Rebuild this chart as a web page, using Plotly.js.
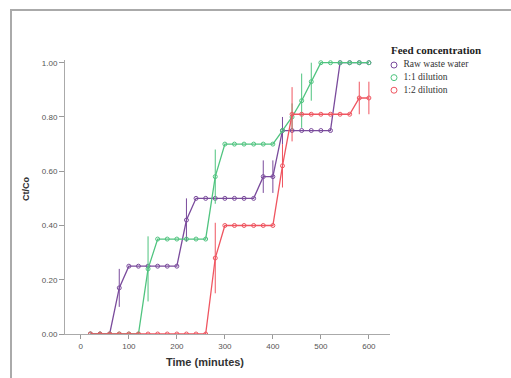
<!DOCTYPE html>
<html>
<head>
<meta charset="utf-8">
<script src="https://cdn.plot.ly/plotly-3.0.1.min.js"></script>
<style>
html,body{margin:0;padding:0;background:#fff;}
#chart{width:511px;height:378px;}
</style>
</head>
<body>
<div id="chart"></div>
<script>
// Time points (minutes)
const time = [20,40,60,80,100,120,140,160,180,200,220,240,260,280,300,320,340,360,380,400,420,440,460,480,500,520,540,560,580,600];

// Ct/Co values
const rawWater = [0,0,0,0.17,0.25,0.25,0.25,0.25,0.25,0.25,0.42,0.50,0.50,0.50,0.50,0.50,0.50,0.50,0.58,0.58,0.75,0.75,0.75,0.75,0.75,0.75,1.00,1.00,1.00,1.00];
const dil11    = [0,0,0,0,0,0,0.24,0.35,0.35,0.35,0.35,0.35,0.35,0.58,0.70,0.70,0.70,0.70,0.70,0.70,0.75,0.80,0.86,0.93,1.00,1.00,1.00,1.00,1.00,1.00];
const dil12    = [0,0,0,0,0,0,0,0,0,0,0,0,0,0.28,0.40,0.40,0.40,0.40,0.40,0.40,0.62,0.81,0.81,0.81,0.81,0.81,0.81,0.81,0.87,0.87];

// Error bar half-widths
const rawErr = [0,0,0,0.07,0,0,0,0,0,0,0.08,0,0,0,0,0,0,0,0.06,0.06,0.05,0,0,0,0,0,0,0,0,0];
const d11Err = [0,0,0,0,0,0,0.12,0,0,0,0,0,0,0.10,0,0,0,0,0,0,0,0.05,0.10,0.07,0,0,0,0,0,0];
const d12Err = [0,0,0,0,0,0,0,0,0,0,0,0,0,0.13,0,0,0,0,0,0,0.08,0.10,0,0,0,0,0,0,0.06,0.06];

const seriesNames = ["Raw waste water","1:1 dilution","1:2 dilution"];
const legendTitle = "Feed concentration";
const colors = ["#7a4b9c","#4fc47f","#ef5560"];

const ys = [rawWater, dil11, dil12];
const errs = [rawErr, d11Err, d12Err];

const traces = [];
ys.forEach((y,i)=>{
  traces.push({
    x: time, y: y, type:'scatter', mode:'lines+markers', name:seriesNames[i],
    line:{color:colors[i], width:1.3},
    marker:{symbol:'circle-open', size:4, color:colors[i], line:{width:1}},
    error_y:{type:'data', array:errs[i], visible:true, color:colors[i], thickness:1, width:0},
    showlegend:false, hoverinfo:'skip'
  });
});
// Legend drawn as a small subplot: one marker per series with its label
traces.push({
  x: seriesNames.map(()=>0), y: seriesNames, type:'scatter', mode:'markers+text',
  text: seriesNames.map(s=>'  '+s), textposition:'middle right',
  textfont:{family:'Liberation Serif, Times New Roman, serif', size:9.5, color:'#333'},
  marker:{symbol:'circle-open', size:6, color:colors, line:{width:1, color:colors}},
  xaxis:'x2', yaxis:'y2', showlegend:false, hoverinfo:'skip', cliponaxis:false
});

const Wd=511, Ht=378;
const fx = p => p/Wd;
const fy = p => (Ht - p)/Ht;

const layout = {
  width:Wd, height:Ht,
  margin:{l:0, r:0, t:0, b:0, pad:0},
  paper_bgcolor:'#fff', plot_bgcolor:'#fff',
  font:{family:'Liberation Sans, Arial, sans-serif', color:'#444'},
  showlegend:false,
  xaxis:{
    domain:[fx(65), fx(390)],
    range:[-33,644], tick0:0, dtick:100, ticks:'outside', ticklen:4, tickcolor:'#999',
    showgrid:false, zeroline:false, showline:true, linecolor:'#aaa', linewidth:1,
    tickfont:{size:8, color:'#555'}
  },
  yaxis:{
    domain:[fy(334), fy(60)],
    range:[0,1.01], tick0:0, dtick:0.2, tickformat:'.2f', ticks:'outside', ticklen:5, tickcolor:'#999',
    showgrid:false, zeroline:false, showline:true, linecolor:'#aaa', linewidth:1,
    tickfont:{size:8, color:'#555'}
  },
  xaxis2:{
    domain:[fx(390), fx(500)], range:[-0.5, 13.25], anchor:'y2',
    visible:false, fixedrange:true
  },
  yaxis2:{
    domain:[fy(96.5), fy(58.75)], type:'category', categoryorder:'array', categoryarray:seriesNames,
    range:[2.5,-0.5], anchor:'x2', visible:false, fixedrange:true
  },
  annotations:[
    {text:'<b>'+legendTitle+'</b>', xref:'paper', yref:'paper', x:fx(389), y:fy(50), showarrow:false,
     xanchor:'left', yanchor:'middle',
     font:{family:'Liberation Serif, Times New Roman, serif', size:11, color:'#222'}},
    {text:'<b>Ct/Co</b>', xref:'paper', yref:'paper', x:fx(26), y:fy(189), textangle:-90, showarrow:false,
     font:{size:9, color:'#333'}, xanchor:'center', yanchor:'middle'},
    {text:'<b>Time (minutes)</b>', xref:'paper', yref:'paper', x:fx(205), y:fy(362), showarrow:false,
     font:{size:11, color:'#333'}, xanchor:'center', yanchor:'middle'}
  ],
  shapes:[
    {type:'line', xref:'paper', yref:'paper', x0:fx(11), x1:fx(11), y0:fy(10), y1:0, line:{color:'#aaa', width:2}},
    {type:'line', xref:'paper', yref:'paper', x0:fx(10), x1:1, y0:fy(10), y1:fy(10), line:{color:'#aaa', width:2}}
  ]
};

Plotly.newPlot('chart', traces, layout, {displayModeBar:false, staticPlot:true});
</script>
</body>
</html>
